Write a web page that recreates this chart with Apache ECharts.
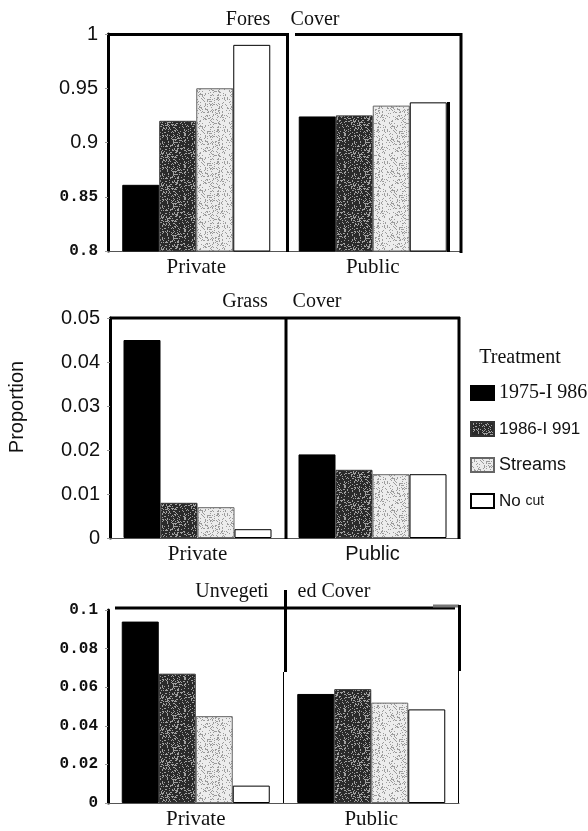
<!DOCTYPE html>
<html>
<head>
<meta charset="utf-8">
<title>Cover proportions by ownership and treatment</title>
<script src="https://cdn.jsdelivr.net/npm/echarts@6/dist/echarts.min.js"></script>
<style>
  html, body { margin: 0; padding: 0; background: #fff; }
  #chart { width: 588px; height: 831px; }
</style>
</head>
<body>
<div id="chart"></div>
<script>
// ---- data -------------------------------------------------------------
const ownership = ['Private', 'Public'];
const treatments = ['1975-I 986', '1986-I 991', 'Streams', 'No cut'];

// one row per treatment: [Private, Public]
const forestCover = [[0.861, 0.924], [0.920, 0.925], [0.950, 0.934], [0.990, 0.937]];
const grassCover  = [[0.045, 0.019], [0.008, 0.0155], [0.007, 0.0145], [0.002, 0.0145]];
const unvegCover  = [[0.094, 0.0565], [0.067, 0.059], [0.045, 0.052], [0.009, 0.0485]];

// y tick labels for each panel
const forestTicks = [0.8, 0.85, 0.9, 0.95, 1];
const grassTicks  = [0, 0.01, 0.02, 0.03, 0.04, 0.05];
const unvegTicks  = [0, 0.02, 0.04, 0.06, 0.08, 0.1];

// ---- fills ------------------------------------------------------------
// stippled fills: a fixed integer hash decides which pixels of the tile get a dot
function hash2(x, y, salt) {
  let h = Math.imul(x, 0x27d4eb2d) ^ Math.imul(y, 0x165667b1) ^ Math.imul(salt, 0x9e3779b1);
  h = Math.imul(h ^ (h >>> 15), 0x2c1b3c6d);
  h = Math.imul(h ^ (h >>> 12), 0x297a2d39);
  h ^= h >>> 15;
  return h >>> 0;
}
function stipple(base, dot, every, salt) {
  const n = 32;
  const c = document.createElement('canvas');
  c.width = n; c.height = n;
  const g = c.getContext('2d');
  g.fillStyle = base; g.fillRect(0, 0, n, n);
  g.fillStyle = dot;
  for (let y = 0; y < n; y++) {
    for (let x = 0; x < n; x++) {
      if (hash2(x, y, salt) % every === 0) g.fillRect(x, y, 1, 1);
    }
  }
  return { image: c, repeat: 'repeat' };
}
const fills = [
  '#000000',
  stipple('#2a2a2a', '#a0a0a0', 4, 7),
  stipple('#ececec', '#9c9c9c', 5, 13),
  '#ffffff'
];
const borders = ['#000', '#333', '#666', '#000'];

// ---- fonts ------------------------------------------------------------
const SERIF = 'Liberation Serif';
const SANS = 'Liberation Sans';
const MONO = 'Liberation Mono';

// ---- panels -----------------------------------------------------------
const panels = [
  { values: forestCover, ticks: forestTicks, grid: { left: 108, right: 127, top: 34, bottom: 580 },
    tickStyle: v => (v >= 0.899 ? 's' : 'm'),
    xFonts: [SERIF, SERIF] },
  { values: grassCover, ticks: grassTicks, grid: { left: 110, right: 128, top: 318, bottom: 293 },
    tickStyle: () => 's',
    xFonts: [SERIF, SANS] },
  { values: unvegCover, ticks: unvegTicks, grid: { left: 108, right: 129, top: 610, bottom: 28 },
    tickStyle: () => 'm',
    xFonts: [SERIF, SERIF] }
];

const grids = [], xAxes = [], yAxes = [], series = [];
panels.forEach((p, i) => {
  grids.push(p.grid);
  xAxes.push({
    type: 'category', gridIndex: i,
    data: ownership.map((name, k) => ({
      value: name,
      textStyle: { fontFamily: p.xFonts[k], fontSize: p.xFonts[k] === SANS ? 20 : 21, color: '#111' }
    })),
    axisLine: { show: true, lineStyle: { color: '#555', width: 1 } },
    axisTick: { show: false },
    axisLabel: { margin: 6 },
    splitLine: { show: false }
  });
  const t = p.ticks;
  yAxes.push({
    type: 'value', gridIndex: i,
    min: t[0], max: t[t.length - 1], interval: t[1] - t[0],
    axisLine: { show: true, lineStyle: { color: '#000', width: 3 } },
    axisTick: { show: true, length: 3, lineStyle: { color: '#999', width: 1 } },
    splitLine: { show: false },
    axisLabel: {
      margin: 10,
      formatter: v => {
        const s = String(Math.round(v * 1000) / 1000);
        return '{' + p.tickStyle(v) + '|' + s + '}';
      },
      rich: {
        s: { fontFamily: SANS, fontSize: 20, color: '#111' },
        m: { fontFamily: MONO, fontWeight: 'bold', fontSize: 16, color: '#111' }
      }
    }
  });
  treatments.forEach((name, k) => {
    series.push({
      type: 'bar', name: name, xAxisIndex: i, yAxisIndex: i,
      data: p.values[k], barWidth: 37, barGap: '0%',
      itemStyle: { color: fills[k], borderColor: borders[k], borderWidth: 1 },
      emphasis: { disabled: true }
    });
  });
});

// ---- frame lines and text ----------------------------------------------
function seg(x1, y1, x2, y2, w, c) {
  return { type: 'line', z: 50, silent: true,
    shape: { x1, y1, x2, y2 }, style: { stroke: c || '#000', lineWidth: w } };
}
function label(text, x, y, font, rot) {
  return { type: 'text', z: 60, silent: true, x, y, rotation: rot || 0,
    style: { text, font, fill: '#111', align: 'center', verticalAlign: 'middle' } };
}
const frames = [
  // forest panel
  seg(108, 34.5, 289, 34.5, 3), seg(295, 34.5, 462, 34.5, 3),
  seg(287.5, 34, 287.5, 252, 3), seg(461, 33, 461, 253, 3), seg(448.5, 102, 448.5, 252, 3),
  // grass panel
  seg(110, 318, 460, 318, 3), seg(286, 317, 286, 539, 3), seg(459, 317, 459, 539, 3),
  // unvegetated panel
  seg(115, 608, 455, 608, 3), seg(433, 606, 459, 606, 3, '#777'),
  seg(285.5, 590, 285.5, 672, 3), seg(283.5, 672, 283.5, 803, 1),
  seg(459.5, 605, 459.5, 671, 3), seg(458.5, 671, 458.5, 803, 1)
];
const texts = [
  label('Fores', 248, 20, '20px ' + SERIF), label('Cover', 315, 20, '20px ' + SERIF),
  label('Grass', 245, 302, '20px ' + SERIF), label('Cover', 317, 302, '20px ' + SERIF),
  label('Unvegeti', 232, 592, '20px ' + SERIF), label('ed Cover', 334, 592, '20px ' + SERIF),
  label('Proportion', 17, 407, '20px ' + SANS, Math.PI / 2),
  label('Treatment', 520, 358, '20px ' + SERIF)
];

const legendFonts = [
  { fontFamily: SERIF, fontSize: 20 },
  { fontFamily: SANS, fontSize: 17 },
  { fontFamily: SANS, fontSize: 18 },
  { fontFamily: SANS, fontSize: 17 }
];

const chart = echarts.init(document.getElementById('chart'), null, { renderer: 'canvas' });
chart.setOption({
  animation: false,
  backgroundColor: '#fff',
  grid: grids,
  xAxis: xAxes,
  yAxis: yAxes,
  series: series,
  legend: {
    orient: 'vertical', left: 465, top: 378,
    icon: 'rect',
    itemWidth: 23, itemHeight: 14, itemGap: 16,
    selectedMode: false,
    data: treatments.map((name, k) => ({
      name, icon: 'rect', textStyle: Object.assign({ color: '#111', lineHeight: 20 }, legendFonts[k])
    })),
    formatter: name => (name === 'No cut' ? '{n|No} {c|cut}' : name),
    textStyle: {
      color: '#111',
      rich: {
        n: { fontFamily: SANS, fontSize: 17, color: '#111' },
        c: { fontFamily: SANS, fontSize: 14, color: '#111' }
      }
    }
  },
  graphic: frames.concat(texts)
});
</script>
</body>
</html>
